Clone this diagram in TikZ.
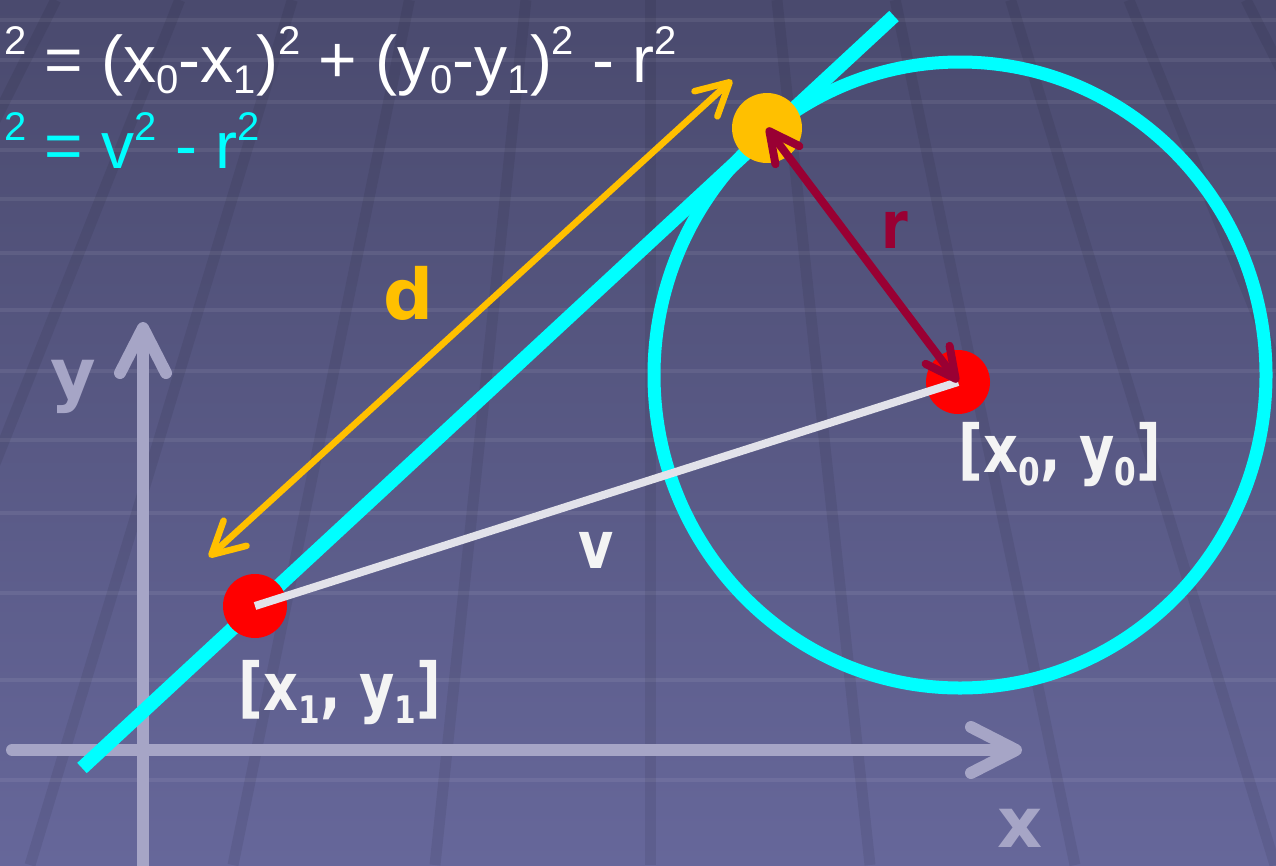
\documentclass[tikz,border=0pt]{standalone}
\usepackage{fontspec}
\usetikzlibrary{arrows.meta}
\setmainfont{Liberation Sans}
\newfontfamily\lblfont[FakeStretch=0.82]{DejaVu Sans}
\newfontfamily\axfont{DejaVu Sans}
\definecolor{bgtop}{HTML}{4A4A6E}
\definecolor{bgbot}{HTML}{66679A}
\definecolor{axcol}{HTML}{A6A5C6}
\definecolor{tancol}{HTML}{00FFFF}
\definecolor{tpcol}{HTML}{FFC000}
\definecolor{rcol}{HTML}{990033}
\definecolor{vcol}{HTML}{E2E2EA}
\definecolor{lblwhite}{HTML}{F4F4F4}
\newcommand\sps[1]{\raisebox{.41em}{\fontsize{40}{40}\selectfont#1}}
\newcommand\sbs[1]{\raisebox{-.17em}{\fontsize{40}{40}\selectfont#1}}
\newcommand\sbl[1]{\raisebox{-.2em}{\fontsize{38}{38}\selectfont#1}}

\begin{document}
\begin{tikzpicture}[x=1pt,y=-1pt,
  dot/.style={circle,inner sep=0,minimum size=64pt},
  hline/.style={white,opacity=.07,line width=4pt},
  vline/.style={black,opacity=.07,line width=11pt},
  axis/.style={axcol,line width=12pt,line cap=round},
  lbl/.style={inner sep=0,anchor=base,font=\fontsize{66}{66}\lblfont\bfseries},
  axlbl/.style={inner sep=0,anchor=base,text=axcol,font=\fontsize{70}{70}\axfont\bfseries}]
\useasboundingbox (0,0) rectangle (1276,865);
\shade[top color=bgtop,bottom color=bgbot] (0,0) rectangle (1276,865);
\begin{scope}
\clip (0,0) rectangle (1276,865);
\foreach \h in {20,60,102,150,199,253,310,371,440,513,593,680,780} \draw[hline] (0,\h)--(1276,\h);
\foreach \b in {-380,-165,30,233,435,650,870,1075,1275,1480,1683} \draw[vline] ({650+0.577*(\b-650)},0)--(\b,865);
\end{scope}
\draw[axis,-{Straight Barb[length=45pt,width=46pt,round]}] (12,750)--(1022,750);
\draw[axis,-{Straight Barb[length=45pt,width=46pt,round]}] (143,880)--(143,322);
\node[axlbl] (ylab) at (73,398) {y};
\node[axlbl] (xlab) at (1020,847) {x};
\coordinate (lnA) at (82,768);\coordinate (lnB) at (894,16);
\draw[tancol,line width=14pt] (lnA)--(lnB);
\draw[tancol,line width=13pt] (960,375) ellipse [x radius=306pt,y radius=313pt];
\coordinate (dA) at (732,80);\coordinate (dB) at (209,557);
\draw[tpcol,line width=6.5pt,{Straight Barb[length=32pt,width=34pt,round]}-{Straight Barb[length=32pt,width=34pt,round]}] (dB)--(dA);
\node[dot,fill=tpcol,minimum size=70pt] (tp) at (767,128) {};
\node[dot,fill=red] (p0) at (958,382) {};
\node[dot,fill=red] (p1) at (255,606) {};
\draw[vcol,line width=8pt] (p1.center)--(p0.center);
\draw[rcol,line width=8pt,{Straight Barb[length=30pt,width=30pt,round]}-{Straight Barb[length=30pt,width=30pt,round]}] (tp.center)--(p0.center);
\node[lbl,text=tpcol,font=\fontsize{70}{70}\axfont\bfseries] (dlab) at (409,319) {d};
\node[lbl,text=rcol] (rlab) at (895,248) {r};
\node[lbl,text=lblwhite] (vlab) at (596,568) {v};
\node[lbl,text=lblwhite] (q0) at (1060,472) {[x\sbl{0}, y\sbl{0}]};
\node[lbl,text=lblwhite] (q1) at (340,710) {[x\sbl{1}, y\sbl{1}]};
\node[anchor=base west,inner sep=0,text=white,font=\fontsize{66}{66}\selectfont] (eqa) at (4,82) {\sps{2} = (x\sbs{0}-x\sbs{1})\sps{2} + (y\sbs{0}-y\sbs{1})\sps{2} - r\sps{2}};
\node[anchor=base west,inner sep=0,text=tancol,font=\fontsize{66}{66}\selectfont] (eqb) at (4,168) {\sps{2} = v\sps{2} - r\sps{2}};
\end{tikzpicture}
\end{document}
